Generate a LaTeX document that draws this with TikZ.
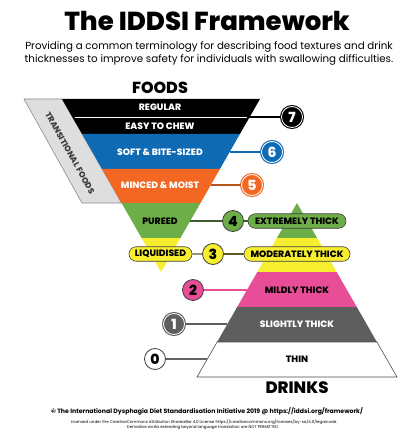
\documentclass[tikz,border=0pt]{standalone}
\usepackage{fontspec}
\setmainfont{Poppins}
\newfontfamily\heavy{Poppins ExtraBold}
\usetikzlibrary{shapes.misc}
\definecolor{cblue}{HTML}{0F6AB4}
\definecolor{corange}{HTML}{F26722}
\definecolor{cgreen}{HTML}{6DAE48}
\definecolor{cyellow}{HTML}{F7EE2F}
\definecolor{cpink}{HTML}{E84D97}
\definecolor{cgray}{HTML}{5E5E5E}
\definecolor{ctrans}{HTML}{DEDEDE}
\definecolor{corline}{HTML}{B5541C}
\definecolor{cgrline}{HTML}{3F5A30}
\definecolor{cyeline}{HTML}{5A5A20}
\begin{document}
\begin{tikzpicture}[x=1pt,y=-1pt,
 lvl/.style={font=\heavy\fontsize{9.2}{10}\selectfont, inner sep=0},
 ringnum/.style={circle, minimum size=21pt, inner sep=0, fill=#1, draw=white, line width=0.8pt,
   preaction={draw=#1, line width=3pt}, text=white, font=\heavy\fontsize{14}{14}\selectfont},
 darknum/.style={circle, minimum size=21pt, inner sep=0, fill=#1, draw=black!75, line width=0.8pt,
   text=black, font=\heavy\fontsize{14}{14}\selectfont},
 pill/.style={rounded rectangle, draw=black!75, line width=0.6pt, fill=#1, minimum height=14.5pt,
   inner xsep=1pt, inner ysep=0pt, font=\heavy\fontsize{9.2}{10}\selectfont},
 conn/.style={line width=1.2pt, draw=#1},
]
\useasboundingbox[fill=white] (0,0) rectangle (411,446);

% title
\node (title) at (207,21) {\heavy\fontsize{26}{26}\selectfont The IDDSI Framework};
\node[align=center, font=\fontsize{10.3}{13}\selectfont] (sub) at (209,53.5)
 {Providing a common terminology for describing food textures and drink\\
  thicknesses to improve safety for individuals with swallowing difficulties.};

% transitional foods band
\draw[fill=ctrans, draw=black!45, line width=0.6pt] (24,99) -- (62,99) -- (121.5,203) -- (82,203) -- cycle;
\node[rotate=-60.8, text=black!75, font=\heavy\fontsize{8.3}{9}\selectfont] (trans) at (70,153) {TRANSITIONAL FOODS};

% funnel (foods)
\fill[black] (62,99) -- (260,99) -- (239.9,134) -- (82.1,134) -- cycle;
\fill[cblue] (82.1,134) -- (239.9,134) -- (219.9,169) -- (102.1,169) -- cycle;
\fill[corange] (102.1,169) -- (219.9,169) -- (200.5,203) -- (121.5,203) -- cycle;
\fill[cgreen] (121.5,203) -- (200.5,203) -- (180.4,238) -- (141.6,238) -- cycle;
\fill[cyellow] (141.6,238) -- (180.4,238) -- (161,272) -- cycle;
\draw[white, line width=0.9pt] (75,117) -- (247,117);

\node[font=\heavy\fontsize{16}{16}\selectfont] (foods) at (160,88) {FOODS};
\node[lvl, text=white] (reg) at (160,107.5) {REGULAR};
\node[lvl, text=white] (easy) at (160,126) {EASY TO CHEW};
\node[lvl, text=white] (soft) at (160,152) {SOFT \& BITE-SIZED};
\node[lvl, text=white] (minc) at (160,185.5) {MINCED \& MOIST};
\node[lvl, text=black] (pur) at (160,221) {PUREED};

% pyramid (drinks)
\fill[cgreen] (297,203) -- (317.1,238) -- (276.9,238) -- cycle;
\fill[cyellow] (276.9,238) -- (317.1,238) -- (336.7,272) -- (257.3,272) -- cycle;
\fill[cpink] (257.3,272) -- (336.7,272) -- (356.8,307) -- (237.2,307) -- cycle;
\fill[cgray] (237.2,307) -- (356.8,307) -- (376.9,342) -- (217.1,342) -- cycle;
\draw[fill=white, draw=black!70, line width=0.6pt] (217.1,342) -- (376.9,342) -- (397,377) -- (197,377) -- cycle;

\node[lvl, text=black] (mild) at (297,290) {MILDLY THICK};
\node[lvl, text=white] (slight) at (297,324) {SLIGHTLY THICK};
\node[lvl, text=black] (thin) at (297,359) {THIN};
\node[font=\heavy\fontsize{16.5}{17}\selectfont] (drinks) at (297,387.5) {DRINKS};

% edge coordinates
\coordinate (f7) at (247,117);
\coordinate (f6) at (229.6,152);
\coordinate (f5) at (210.8,185);
\coordinate (f4) at (190.2,221);
\coordinate (d2) at (247,290);
\coordinate (d1) at (227.4,324);
\coordinate (d0) at (207.3,359);

% pills
\node[pill=cgreen, minimum width=100pt] (pE) at (297,221) {EXTREMELY THICK};
\node[pill=cyellow, minimum width=108pt] (pM) at (297,254) {MODERATELY THICK};
\node[pill=cyellow, minimum width=65pt] (pL) at (160.5,254) {LIQUIDISED};

% number circles
\node[ringnum=black] (c7) at (292,117) {7};
\node[ringnum=cblue] (c6) at (272,152) {6};
\node[ringnum=corange] (c5) at (252,185) {5};
\node[darknum=cgreen] (c4) at (233,221) {4};
\node[darknum=cyellow] (c3) at (213,254) {3};
\node[darknum=cpink] (c2) at (193,290) {2};
\node[ringnum=cgray] (c1) at (174,324) {1};
\node[darknum=white] (c0) at (155,359) {0};

% connectors
\draw[conn=black] (f7) -- (c7);
\draw[conn=cblue] (f6) -- (c6);
\draw[conn=corline] (f5) -- (c5);
\draw[conn=cgrline] (f4) -- (c4);
\draw[conn=cgrline] (c4) -- (pE);
\draw[conn=cyeline] (pL) -- (c3);
\draw[conn=cyeline] (c3) -- (pM);
\draw[conn=cpink] (c2) -- (d2);
\draw[conn=cgray] (c1) -- (d1);
\draw[conn=black!60] (c0) -- (d0);

% footer
\node[font=\bfseries\fontsize{6.2}{7}\selectfont] (copy) at (207,411)
 {© The International Dysphagia Diet Standardisation Initiative 2019 @ https://iddsi.org/framework/};
\node[font=\fontsize{4}{5}\selectfont] (lic) at (204,421.7)
 {Licensed under the CreativeCommons Attribution Sharealike 4.0 License https://creativecommons.org/licenses/by-sa/4.0/legalcode.};
\node[font=\fontsize{4}{5}\selectfont] (deriv) at (203,427.5)
 {Derivative works extending beyond language translation are NOT PERMITTED.};
\end{tikzpicture}
\end{document}
